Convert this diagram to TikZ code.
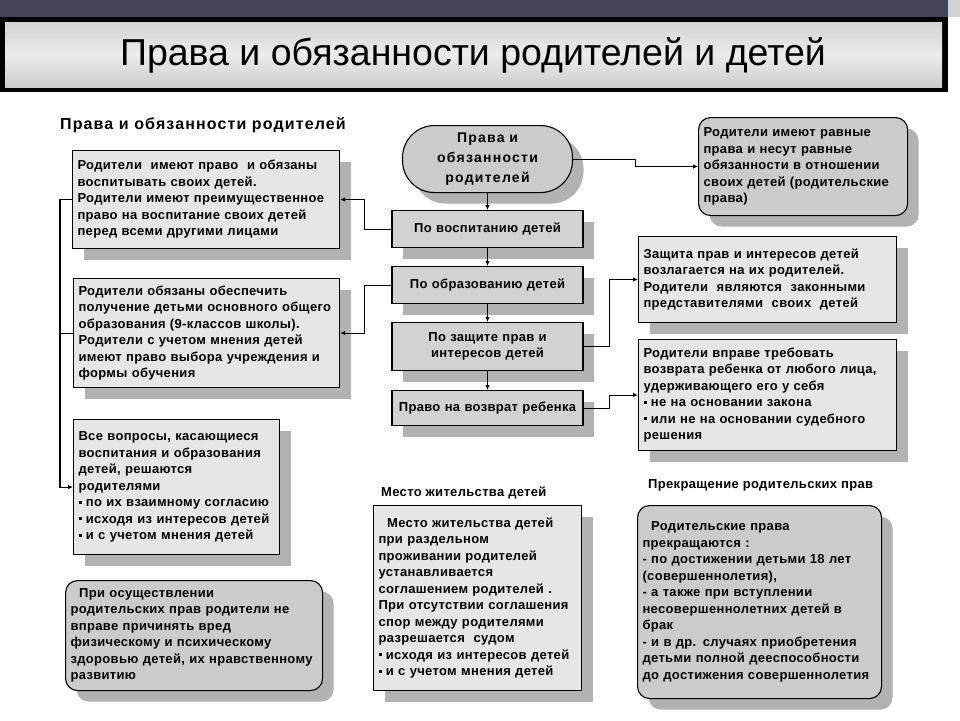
\documentclass[tikz,border=0pt]{standalone}
\usepackage{fontspec}
\setmainfont{Liberation Sans}
\usetikzlibrary{arrows.meta,shadows,calc}
\definecolor{boxfill}{HTML}{E6E6E6}
\definecolor{midfill}{HTML}{D2D2D2}
\definecolor{roundfill}{HTML}{CBCBCB}
\definecolor{shadowc}{HTML}{B2B2B2}
\definecolor{bandc}{HTML}{45455A}
\newcommand{\bul}{\rule[0.22em]{3pt}{3pt}\ }
\newcommand{\bodyfont}{\bfseries\fontsize{13}{16.5}\selectfont\addfontfeature{LetterSpace=2.5}}
\tikzset{
  x=1pt, y=-1pt,
  shad/.style={drop shadow={shadow xshift=11pt, shadow yshift=-11pt, fill=shadowc, opacity=1}},
  tbox/.style={draw=black, line width=1.1pt, fill=boxfill, anchor=north west,
    inner xsep=5pt, inner ysep=3pt, align=left, shad, font=\bodyfont},
  rbox/.style={tbox, fill=roundfill, rounded corners=12pt},
  cbox/.style={tbox, fill=midfill, align=center, inner xsep=2pt, anchor=north},
  head/.style={anchor=west, font=\bodyfont, inner sep=0pt},
  arr/.style={line width=1.1pt, -{Latex[length=5pt,width=4.5pt]}},
  ln/.style={line width=1.1pt},
}
\begin{document}
\begin{tikzpicture}
\useasboundingbox (0,0) rectangle (960,720);
\fill[white] (0,0) rectangle (960,720);
% title
\fill[bandc] (0,0) rectangle (960,17);
\fill[black] (0,17) rectangle (948,92);
\shade[top color=gray!35, bottom color=gray!40, middle color=gray!15] (5,22) rectangle (942,87);
\fill[gray!35] (948,0) rectangle (960,17);
\node (title) at (473,55) {\fontsize{37.5}{37.5}\selectfont Права и обязанности родителей и детей};
% headings
\node[head, font=\bfseries\fontsize{16}{18}\selectfont\addfontfeature{LetterSpace=7}] (h1) at (60,125) {Права и обязанности родителей};
\node[head] (h2) at (381,493) {Место жительства детей};
\node[head] (h3) at (648,485) {Прекращение родительских прав};
% left boxes
\node[tbox, text width=257pt, minimum height=98pt] (b1) at (72,150) {Родители \ имеют право \ и обязаны\\воспитывать своих детей.\\Родители имеют преимущественное\\право на воспитание своих детей\\перед всеми другими лицами};
\node[tbox, text width=256pt, minimum height=109pt] (b2) at (73,278) {Родители обязаны обеспечить\\получение детьми основного общего\\образования (9-классов школы).\\Родители с учетом мнения детей\\имеют право выбора учреждения и\\формы обучения};
\node[tbox, text width=196pt, minimum height=135pt] (b3) at (73,419) {Все вопросы, касающиеся\\воспитания и образования\\детей, решаются\\родителями\\\bul по их взаимному согласию\\\bul исходя из интересов детей\\\bul и с учетом мнения детей};
\node[rbox, text width=247pt, minimum height=110pt] (b4) at (65,580) {\ \ При осуществлении\\родительских прав родители не\\вправе причинять вред\\физическому и психическому\\здоровью детей, их нравственному\\развитию};
% center
\node[tbox, fill=roundfill, rounded corners=32pt, align=center, anchor=north, text width=160pt, minimum height=67pt, font=\bfseries\fontsize{14}{20}\selectfont\addfontfeature{LetterSpace=9}] (st) at (487.5,125) {Права и\\обязанности\\родителей};
\node[cbox, text width=187pt, minimum height=37pt] (c1) at (487.5,210) {По воспитанию детей};
\node[cbox, text width=187pt, minimum height=37pt] (c2) at (487.5,266) {По образованию детей};
\node[cbox, text width=187pt, minimum height=48pt] (c3) at (487.5,322) {По защите прав и\\интересов детей};
\node[cbox, text width=187pt, minimum height=35pt] (c4) at (487.5,390) {Право на возврат ребенка};
% right boxes
\node[rbox, text width=199pt, minimum height=98pt] (r1) at (698,117) {Родители имеют равные\\права и несут равные\\обязанности в отношении\\своих детей (родительские\\права)};
\node[tbox, text width=248pt, minimum height=86pt] (r2) at (638,236) {Защита прав и интересов детей\\возлагается на их родителей.\\Родители \ являются \ законными\\представителями \ своих \ детей};
\node[tbox, text width=248pt, minimum height=111pt] (r3) at (638,339) {Родители вправе требовать\\возврата ребенка от любого лица,\\удерживающего его у себя\\\bul не на основании закона\\\bul или не на основании судебного\\решения};
% bottom
\node[tbox, text width=198pt, minimum height=185pt] (m) at (373,505) {\ \ Место жительства детей\\при раздельном\\проживании родителей\\устанавливается\\соглашением родителей .\\При отсутствии соглашения\\спор между родителями\\разрешается \ судом\\\bul исходя из интересов детей\\\bul и с учетом мнения детей};
\node[rbox, text width=234pt, minimum height=193pt] (br) at (637,505) {\ \ Родительские права\\прекращаются :\\- по достижении детьми 18 лет\\(совершеннолетия),\\- а также при вступлении\\несовершеннолетних детей в\\брак\\- и в др. случаях приобретения\\детьми полной дееспособности\\до достижения совершеннолетия};
% connectors
\draw[arr] (st.south) -- (c1.north);
\draw[arr] (c1.south) -- (c2.north);
\draw[arr] (c2.south) -- (c3.north);
\draw[arr] (c3.south) -- (c4.north);
\draw[arr] (st.east) -- ++(62,0) |- (r1.west);
\draw[arr] (c1.west) -- ++(-27,0) |- (b1.east);
\draw[arr] (c2.west) -- ++(-27,0) |- (b2.east);
\draw[arr] (c3.east) -- ++(26,0) |- (r2.west);
\draw[arr] (c4.east) -- ++(26,0) |- (r3.west);
\draw[arr] (b1.west) -- ++(-12,0) |- (b3.west);
\draw[ln] (b2.west) -- ++(-13,0);
\end{tikzpicture}
\end{document}
